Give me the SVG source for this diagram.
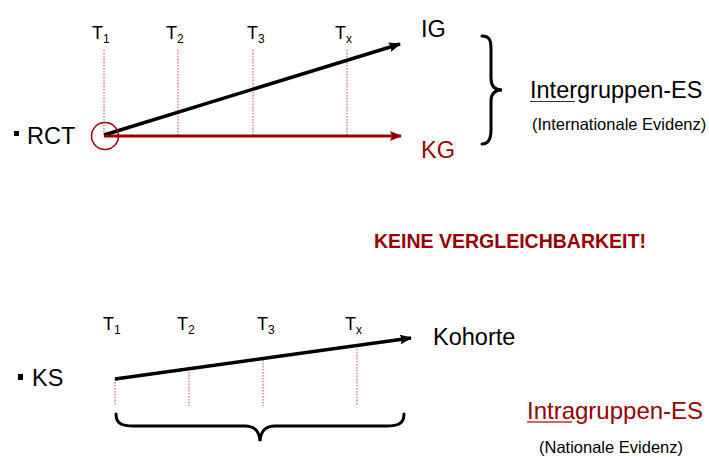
<svg xmlns="http://www.w3.org/2000/svg" width="709" height="457" viewBox="0 0 709 457">
<style>
text{font-family:"Liberation Sans",Arial,sans-serif;fill:#000}
.t{font-size:18px}
.s{font-size:12px}
.big{font-size:23.5px}
.red{fill:#990000}
.dot{stroke:#e04040;stroke-width:1;stroke-dasharray:1.5,1.5;fill:none}
.brace{fill:none;stroke:#000;stroke-width:3;stroke-linecap:round}
</style>
<defs>
<marker id="ab" markerWidth="12" markerHeight="10" refX="11" refY="5" orient="auto" markerUnits="userSpaceOnUse" viewBox="0 0 12 10"><path d="M0,0 L12,5 L0,10 L2,5 Z" fill="#000"/></marker>
<marker id="ar" markerWidth="12" markerHeight="10" refX="11" refY="5" orient="auto" markerUnits="userSpaceOnUse" viewBox="0 0 12 10"><path d="M0,0 L12,5 L0,10 L2,5 Z" fill="#990000"/></marker>
</defs>
<g id="connectors">
<line class="dot" x1="104" y1="50" x2="104" y2="135"/>
<line class="dot" x1="178" y1="50" x2="178" y2="135"/>
<line class="dot" x1="253" y1="50" x2="253" y2="135"/>
<line class="dot" x1="347" y1="50" x2="347" y2="135"/>
<line x1="104" y1="135" x2="400" y2="44" stroke="#000" stroke-width="3.5" marker-end="url(#ab)"/>
<line x1="104" y1="136" x2="401" y2="136" stroke="#990000" stroke-width="3" marker-end="url(#ar)"/>
<line class="dot" x1="115" y1="379" x2="115" y2="406"/>
<line class="dot" x1="189" y1="372" x2="189" y2="406"/>
<line class="dot" x1="263" y1="360" x2="263" y2="406"/>
<line class="dot" x1="357" y1="346" x2="357" y2="406"/>
<line x1="115" y1="379" x2="411" y2="338" stroke="#000" stroke-width="3.5" marker-end="url(#ab)"/>
</g>
<g id="rct">
<rect x="14" y="131" width="5" height="5" fill="#000"/>
<text x="27" y="144" class="big">RCT</text>
<circle cx="105" cy="136" r="13.5" fill="none" stroke="#990000" stroke-width="1.5"/>
</g>
<g id="top-labels">
<text x="92" y="39" class="t">T<tspan class="s" dy="4">1</tspan></text>
<text x="166" y="39" class="t">T<tspan class="s" dy="4">2</tspan></text>
<text x="247" y="39" class="t">T<tspan class="s" dy="4">3</tspan></text>
<text x="335" y="39" class="t">T<tspan class="s" dy="4">x</tspan></text>
</g>
<g id="ig"><text x="421" y="37" class="big">IG</text></g>
<g id="kg"><text x="421" y="158" class="big red">KG</text></g>
<g id="brace-top">
<path class="brace" d="M482,36 C492,36 491,44 491,55 L491,78 C491,86 495,90 502,90 C495,90 491,93 491,101 L491,130 C491,140 488,144 482,144"/>
</g>
<g id="intergruppen">
<text x="530" y="98" class="big">Intergruppen-ES</text>
<line x1="530" y1="101.5" x2="575" y2="101.5" stroke="#333" stroke-width="1.2"/>
<text x="532" y="130" style="font-size:16.5px">(Internationale Evidenz)</text>
</g>
<g id="keine">
<text x="374" y="248" style="font-size:19.5px;font-weight:bold" class="red">KEINE VERGLEICHBARKEIT!</text>
</g>
<g id="ks">
<rect x="18" y="374" width="5" height="6" fill="#000"/>
<text x="32" y="386" class="big">KS</text>
</g>
<g id="bottom-labels">
<text x="103" y="330" class="t">T<tspan class="s" dy="4">1</tspan></text>
<text x="177" y="330" class="t">T<tspan class="s" dy="4">2</tspan></text>
<text x="257" y="330" class="t">T<tspan class="s" dy="4">3</tspan></text>
<text x="345" y="330" class="t">T<tspan class="s" dy="4">x</tspan></text>
</g>
<g id="kohorte"><text x="433" y="345" class="big">Kohorte</text></g>
<g id="brace-bottom">
<path class="brace" d="M116,414 C116,424 122,426 134,426 L245,426 C254,426 259,430 260,441 C261,430 266,426 275,426 L386,426 C398,426 404,424 404,414"/>
</g>
<g id="intragruppen">
<text x="527" y="419" class="big red" style="font-size:24px">Intragruppen-ES</text>
<line x1="527" y1="422" x2="572" y2="422" stroke="#c03030" stroke-width="1.3"/>
<text x="539" y="453" style="font-size:16.5px">(Nationale Evidenz)</text>
</g>
</svg>
